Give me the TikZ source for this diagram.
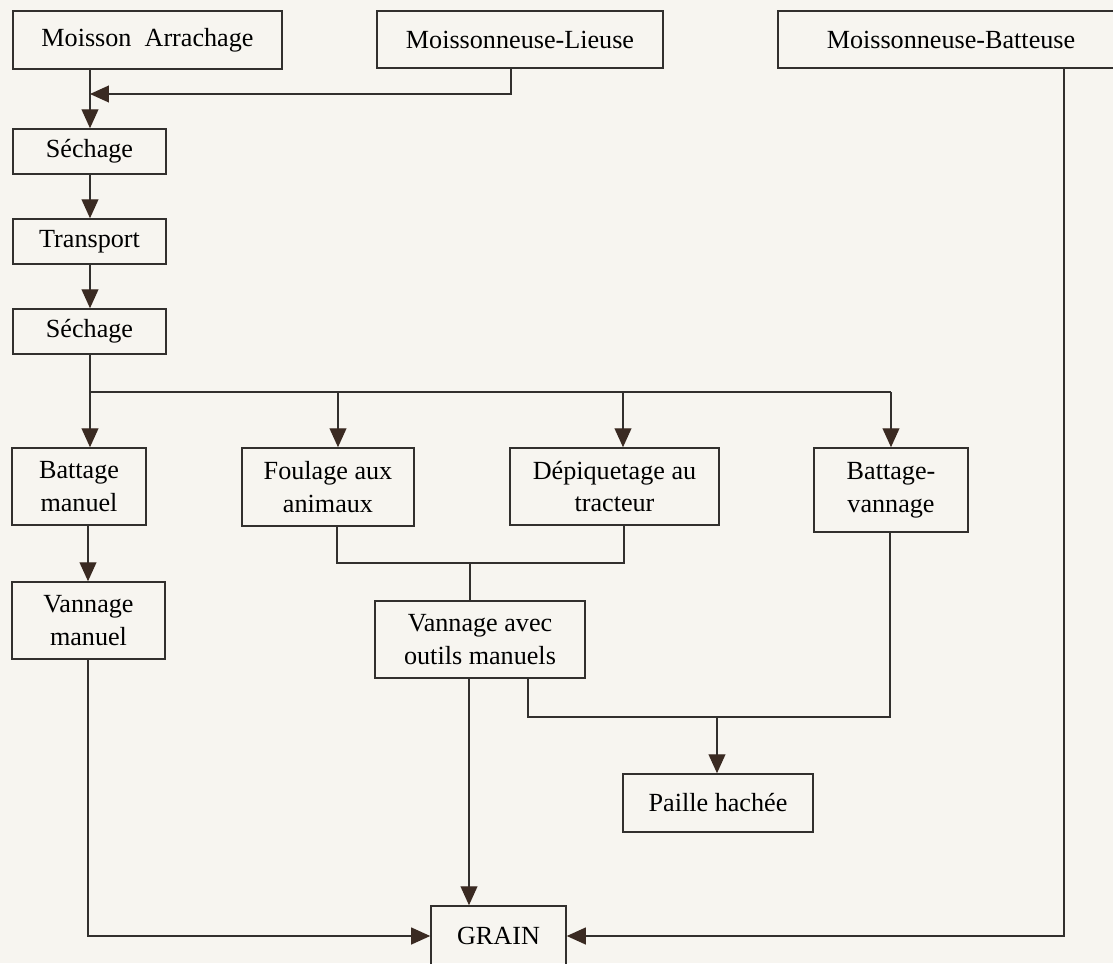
\documentclass[tikz,border=0pt]{standalone}
\usepackage{fontspec}
\setmainfont{Liberation Serif}
\usepackage{xcolor}
\usetikzlibrary{arrows.meta,positioning}

\definecolor{paper}{RGB}{247,245,240}
\definecolor{ink}{RGB}{50,48,46}
\definecolor{tipbrown}{RGB}{58,42,34}

\begin{document}
\begin{tikzpicture}[x=0.025cm,y=-0.025cm,
    box/.style={draw=ink, line width=1.1pt, inner sep=0pt, align=center,
      font=\fontsize{18.6}{23.4}\selectfont},
    boxsize/.style 2 args={minimum width=#1*0.025cm, minimum height=#2*0.025cm},
    link/.style={draw=ink, line width=1pt},
    flow/.style={link, -{Triangle[length=13.5pt,width=12pt,color=tipbrown]}}]
  \path[use as bounding box, fill=paper] (0,0) rectangle (1113,963);
  \clip (0,0) rectangle (1113,963);

  \node[box, boxsize={269}{58}] (arrach) at (147.5,40) {Moisson~ Arrachage};
  \node[box, boxsize={286}{57}] (lieuse) at (520,39.5) {Moissonneuse-Lieuse};
  \node[box, boxsize={346}{57}] (batteuse) at (951,39.5) {Moissonneuse-Batteuse};
  \node[box, boxsize={153}{45}] (sech1) at (89.5,151.5) {Séchage};
  \node[box, boxsize={153}{45}] (transp) at (89.5,241.5) {Transport};
  \node[box, boxsize={153}{45}] (sech2) at (89.5,331.5) {Séchage};
  \node[box, boxsize={134}{77}] (batman) at (79,486.5) {Battage\\manuel};
  \node[box, boxsize={172}{78}] (foul) at (328,487) {Foulage aux\\animaux};
  \node[box, boxsize={209}{77}] (depiq) at (614.5,486.5) {Dépiquetage au\\tracteur};
  \node[box, boxsize={154}{84}] (batvan) at (891,490) {Battage-\\vannage};
  \node[box, boxsize={153}{77}] (vanman) at (88.5,620.5) {Vannage\\manuel};
  \node[box, boxsize={210}{77}] (vanout) at (480,639.5) {Vannage avec\\outils manuels};
  \node[box, boxsize={190}{58}] (paille) at (718,803) {Paille hachée};
  \node[box, boxsize={135}{60}] (grain) at (498.5,936) {GRAIN};

  \coordinate (jl) at (90,94);
  \coordinate (jr) at (511,94);
  \coordinate (bus) at (90,392);
  \coordinate (busf) at (338,392);
  \coordinate (busd) at (623,392);
  \coordinate (busb) at (891,392);
  \coordinate (mfl) at (337,563);
  \coordinate (mdp) at (624,563);
  \coordinate (mvo) at (470,563);
  \coordinate (pvo) at (528,717);
  \coordinate (pbv) at (890,717);
  \coordinate (ppa) at (717,717);
  \coordinate (gx) at (469,800);
  \coordinate (gl) at (88,936);
  \coordinate (gr) at (1064,936);

  \draw[link] (jl |- arrach.south) -- (jl);
  \draw[flow] (jl) -- (jl |- sech1.north);
  \draw[flow] (jr |- lieuse.south) -- (jr) -- (jl);
  \draw[flow] (sech1.south -| jl) -- (jl |- transp.north);
  \draw[flow] (transp.south -| jl) -- (jl |- sech2.north);
  \draw[link] (sech2.south -| bus) -- (bus) -- (busb);
  \draw[flow] (bus) -- (bus |- batman.north);
  \draw[flow] (busf) -- (busf |- foul.north);
  \draw[flow] (busd) -- (busd |- depiq.north);
  \draw[flow] (busb) -- (busb |- batvan.north);
  \draw[flow] (batman.south -| gl) -- (gl |- vanman.north);
  \draw[link] (mfl |- foul.south) -- (mfl) -- (mdp) -- (mdp |- depiq.south);
  \draw[link] (mvo) -- (mvo |- vanout.north);
  \draw[link] (pvo |- vanout.south) -- (pvo) -- (pbv) -- (pbv |- batvan.south);
  \draw[flow] (ppa) -- (ppa |- paille.north);
  \draw[flow] (gx |- vanout.south) -- (gx |- grain.north);
  \draw[flow] (gl |- vanman.south) -- (gl) -- (grain.west);
  \draw[flow] (gr |- batteuse.south) -- (gr) -- (grain.east);
\end{tikzpicture}
\end{document}
